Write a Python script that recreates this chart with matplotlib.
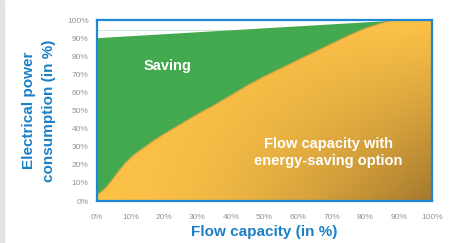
import matplotlib
matplotlib.use("Agg")
import matplotlib.pyplot as plt
import numpy as np
from matplotlib import font_manager
from matplotlib.patches import Rectangle

# curve values (both axes in %)
flow = [0, 2.5, 4.5, 6.5, 8.5, 11, 14, 17, 20, 25, 30, 35, 40, 45, 50,
        55, 60, 65, 70, 75, 80, 85, 88, 100]
power_with_option = [3, 7, 11.5, 16.5, 21, 25.5, 29.5, 33.5, 37, 42.5, 48, 53,
                     58.5, 64, 69, 73.5, 78, 82.5, 87, 91.5, 95.5, 98.5, 100, 100]
flow_plain = [0, 87, 100]
power_plain = [90.5, 100, 100]
ticks = list(range(0, 101, 10))
tick_labels = [f"{t}%" for t in ticks]

names = {f.name for f in font_manager.fontManager.ttflist}
narrow = "Liberation Sans Narrow" if "Liberation Sans Narrow" in names else "Liberation Sans"

blue = "#1b80c6"
green = "#43a94f"
light = np.array([0.99, 0.76, 0.28])
dark = np.array([0.64, 0.47, 0.18])

fig = plt.figure(figsize=(4.55, 2.43), dpi=100)
fig.patches.append(Rectangle((0, 0), 4 / 455, 1, transform=fig.transFigure,
                             color="#e4e4e6", zorder=0))
ax = fig.add_axes([97 / 455, 1 - 201 / 243, 335 / 455, 180.5 / 243])

x = np.array(flow, dtype=float)
y_low = np.array(power_with_option, dtype=float)
y_top = np.interp(x, flow_plain, power_plain)

ax.fill_between(x, y_low, y_top, color=green, lw=0, zorder=1)
for yy in range(5, 100, 5):
    ax.axhline(yy, color="#52b35c", lw=0.4, alpha=0.5, zorder=1.5)

# orange area with a gradient, clipped to the fill
poly = ax.fill_between(x, 0, y_low, color="none", lw=0, zorder=2)
gx, gy = np.meshgrid(np.linspace(0, 1, 300), np.linspace(1, 0, 200))
t = np.clip(gx ** 1.8 * (1 - gy) ** 1.1, 0, 1)
img = light[None, None, :] * (1 - t[..., None]) + dark[None, None, :] * t[..., None]
im = ax.imshow(img, extent=[0, 100, 0, 100], aspect="auto", zorder=2,
               interpolation="bilinear")
im.set_clip_path(poly.get_paths()[0], transform=ax.transData)
ax.plot(x, y_low, color="#f0a040", lw=1.2, alpha=0.6, zorder=2.5)

ax.set_xlim(0, 100)
ax.set_ylim(0, 100)
ax.set_xticks(ticks)
ax.set_xticklabels(tick_labels)
ax.set_yticks(ticks)
ax.set_yticklabels(tick_labels)
ax.tick_params(length=0, labelsize=6, labelcolor="#959595")
ax.tick_params(axis="x", pad=9)
ax.tick_params(axis="y", pad=6)
for lab in ax.get_xticklabels() + ax.get_yticklabels():
    lab.set_family(narrow)
for s in ax.spines.values():
    s.set_color("#1e88d2")
    s.set_linewidth(1.6)
    s.set_zorder(5)

ax.text(21, 75, "Saving", color="white", fontsize=10.5, fontweight="bold",
        family=narrow, ha="center", va="center", zorder=4)
ax.text(69, 27, "Flow capacity with\nenergy-saving option", color="white",
        fontsize=10.5, fontweight="bold", family=narrow, ha="center",
        va="center", linespacing=1.25, zorder=4)

ax.set_xlabel("Flow capacity (in %)", color=blue, fontsize=11,
              fontweight="bold", family=narrow, labelpad=3)
ax.set_ylabel("Electrical power\nconsumption (in %)", color=blue,
              fontsize=11, fontweight="bold", family=narrow,
              linespacing=1.5, labelpad=8)

fig.savefig("out.png", dpi=100)
plt.close(fig)
